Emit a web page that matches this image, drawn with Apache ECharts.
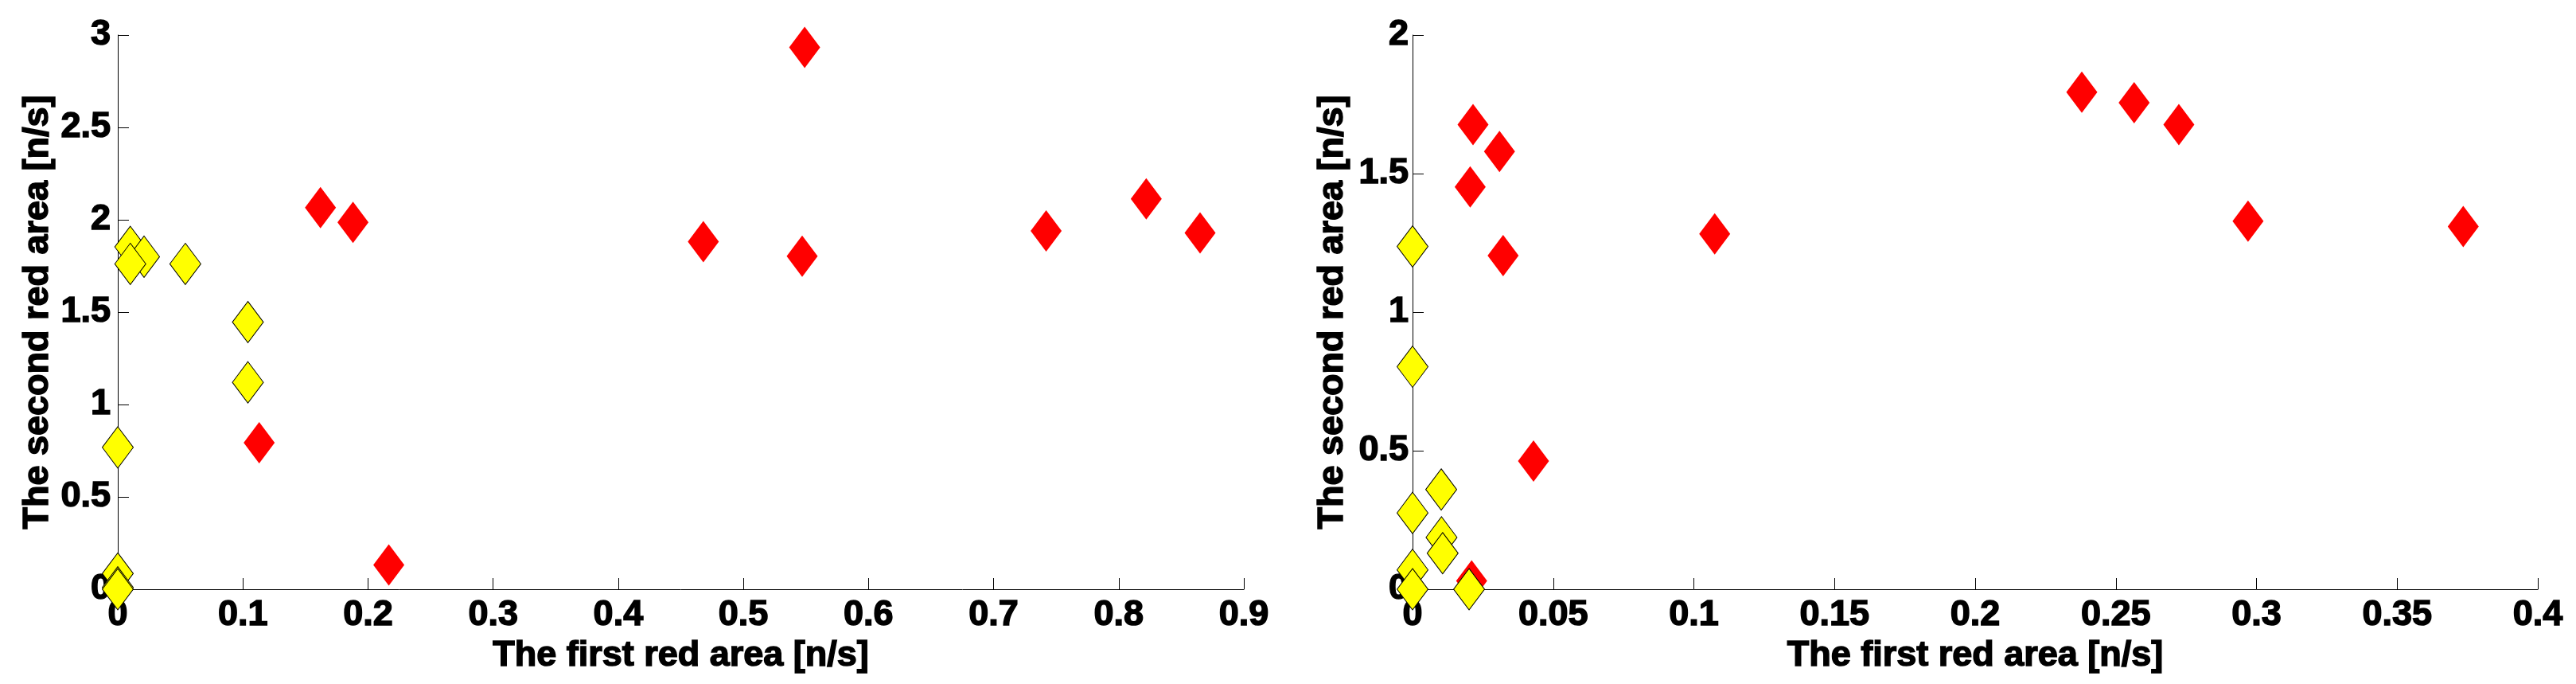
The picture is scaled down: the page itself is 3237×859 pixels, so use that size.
<!DOCTYPE html>
<html>
<head>
<meta charset="utf-8">
<title>red area scatter</title>
<script src="https://cdn.jsdelivr.net/npm/echarts@6/dist/echarts.min.js"></script>
<style>
  html, body { margin: 0; padding: 0; background: #fff; }
  #chart { width: 3237px; height: 859px; }
</style>
</head>
<body>
<div id="chart"></div>
<script>
  // left panel
  const leftRedX    = [0.162, 0.188, 0.113, 0.2166, 0.549, 0.468, 0.547, 0.742, 0.822, 0.865];
  const leftRedY    = [2.066, 1.986, 0.793, 0.132, 2.933, 1.881, 1.803, 1.940, 2.113, 1.929];
  const leftYellowX = [0.010, 0.021, 0.010, 0.054, 0.104, 0.104, 0, 0, 0, 0];
  const leftYellowY = [1.853, 1.800, 1.761, 1.761, 1.446, 1.120, 0.768, 0.085, 0.01, 0.0];

  // right panel
  const rightRedX    = [0.0215, 0.0309, 0.0205, 0.0322, 0.1074, 0.0430, 0.021, 0.2379, 0.2565, 0.2724, 0.297, 0.3735];
  const rightRedY    = [1.677, 1.580, 1.452, 1.204, 1.282, 0.463, 0.03, 1.794, 1.756, 1.677, 1.328, 1.309];
  const rightYellowX = [0, 0, 0.0102, 0, 0.0103, 0.0107, 0, 0, 0.0201];
  const rightYellowY = [1.237, 0.803, 0.360, 0.2755, 0.187, 0.130, 0.070, 0.0, 0.0];

  // axis ranges
  const leftXMax = 0.9,  leftXStep = 0.1,  leftYMax = 3, leftYStep = 0.5;
  const rightXMax = 0.4, rightXStep = 0.05, rightYMax = 2, rightYStep = 0.5;

  const xTitle = 'The first red area [n/s]';
  const yTitle = 'The second red area [n/s]';

  const pairs = (xs, ys) => xs.map((x, i) => [x, ys[i]]);

  const fontFamily = '"Liberation Sans", Arial, Helvetica, sans-serif';
  const fontSize = 45;
  // heavier strokes, closer to the bitmap Helvetica bold of the original
  const textStyle = {
    color: '#000', fontFamily: fontFamily, fontWeight: 'bold', fontSize: fontSize,
    textBorderColor: '#000', textBorderWidth: 1.5
  };
  const blackLine = {color: '#000', width: 1};

  const makeXAxis = (idx, max, interval) => ({
    gridIndex: idx,
    type: 'value',
    min: 0,
    max: max,
    interval: interval,
    name: xTitle,
    nameLocation: 'middle',
    nameGap: 50,
    nameTextStyle: textStyle,
    axisLine: {show: true, onZero: false, lineStyle: blackLine},
    axisTick: {show: true, inside: true, length: 14, lineStyle: blackLine},
    axisLabel: Object.assign({margin: 10}, textStyle),
    splitLine: {show: false}
  });

  const makeYAxis = (idx, max, interval, labelMargin) => ({
    gridIndex: idx,
    type: 'value',
    min: 0,
    max: max,
    interval: interval,
    name: yTitle,
    nameLocation: 'middle',
    nameGap: 78,
    nameTextStyle: textStyle,
    axisLine: {show: true, onZero: false, lineStyle: blackLine},
    axisTick: {show: true, inside: true, length: 14, lineStyle: blackLine},
    axisLabel: Object.assign({margin: labelMargin}, textStyle),
    splitLine: {show: false}
  });

  const redSeries = (idx, data) => ({
    type: 'scatter',
    xAxisIndex: idx,
    yAxisIndex: idx,
    data: data,
    symbol: 'diamond',
    symbolSize: [39, 52],
    clip: false,
    itemStyle: {color: '#ff0000', opacity: 1}
  });

  const yellowSeries = (idx, data) => ({
    type: 'scatter',
    xAxisIndex: idx,
    yAxisIndex: idx,
    data: data,
    symbol: 'diamond',
    symbolSize: [39, 52],
    clip: false,
    itemStyle: {color: '#ffff00', borderColor: '#000', borderWidth: 1, opacity: 1}
  });

  const myChart = echarts.init(document.getElementById('chart'), null, {renderer: 'canvas'});
  const chartOption = {
    backgroundColor: '#fff',
    animation: false,
    grid: [
      {left: 148, top: 44, width: 1415, height: 696},
      {left: 1775, top: 44, width: 1414, height: 696}
    ],
    xAxis: [
      makeXAxis(0, leftXMax, leftXStep),
      makeXAxis(1, rightXMax, rightXStep)
    ],
    yAxis: [
      makeYAxis(0, leftYMax, leftYStep, 9),
      makeYAxis(1, rightYMax, rightYStep, 5)
    ],
    series: [
      redSeries(0, pairs(leftRedX, leftRedY)),
      yellowSeries(0, pairs(leftYellowX, leftYellowY)),
      redSeries(1, pairs(rightRedX, rightRedY)),
      yellowSeries(1, pairs(rightYellowX, rightYellowY))
    ]
  };
  myChart.setOption(chartOption);
</script>
</body>
</html>
